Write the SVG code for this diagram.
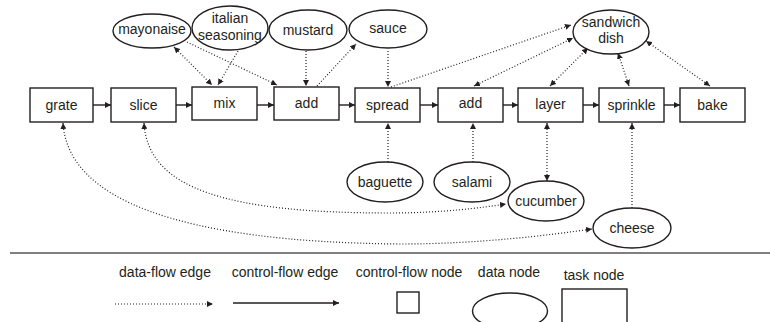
<svg xmlns="http://www.w3.org/2000/svg" width="770" height="322" viewBox="0 0 770 322">
<defs>
<marker id="ah" viewBox="0 0 6 6" refX="6" refY="3" markerWidth="6" markerHeight="6" markerUnits="userSpaceOnUse" orient="auto-start-reverse">
<path d="M0,0 L6,3 L0,6 z" fill="#231f20"/>
</marker>
<style>
.task{fill:#fff;stroke:#231f20;stroke-width:1.4}
.data{fill:#fff;stroke:#231f20;stroke-width:1.4}
text{font-family:"Liberation Sans",Arial,sans-serif;font-size:14px;fill:#231f20;text-anchor:middle}
.cf{stroke:#231f20;stroke-width:1.4;fill:none;marker-end:url(#ah)}
.df{stroke:#231f20;stroke-width:1.2;stroke-dasharray:1 2;fill:none;marker-end:url(#ah)}
.both{marker-start:url(#ah)}
</style>
</defs>
<rect width="770" height="322" fill="#fff"/>
<g id="connectors">
<line class="cf" x1="93" y1="105" x2="111" y2="105"/>
<line class="cf" x1="176" y1="105" x2="192" y2="105"/>
<line class="cf" x1="257" y1="105" x2="274" y2="105"/>
<line class="cf" x1="339" y1="105" x2="355" y2="105"/>
<line class="cf" x1="420" y1="105" x2="438" y2="105"/>
<line class="cf" x1="503" y1="105" x2="518" y2="105"/>
<line class="cf" x1="583" y1="105" x2="599" y2="105"/>
<line class="cf" x1="664" y1="105" x2="680" y2="105"/>
<line class="df both" x1="174" y1="47" x2="212" y2="85"/>
<line class="df" x1="187" y1="42" x2="277" y2="85"/>
<line class="df" x1="238" y1="51" x2="218" y2="85"/>
<line class="df" x1="306" y1="51" x2="306" y2="86"/>
<line class="df" x1="317" y1="86" x2="356" y2="44"/>
<line class="df" x1="388" y1="51" x2="388" y2="87"/>
<line class="df" x1="391" y1="87" x2="571" y2="25"/>
<line class="df both" x1="474" y1="86" x2="573" y2="38"/>
<line class="df both" x1="550" y1="86" x2="588" y2="48"/>
<line class="df both" x1="629" y1="86" x2="618" y2="53"/>
<line class="df both" x1="710" y1="86" x2="646" y2="41"/>
<line class="df" x1="388" y1="162" x2="388" y2="123"/>
<line class="df" x1="473" y1="162" x2="473" y2="123"/>
<line class="df both" x1="547" y1="123" x2="547" y2="181"/>
<line class="df" x1="632" y1="208" x2="632" y2="123"/>
<path class="df both" d="M144,123 C148,190 230,213 390,213 C440,213 480,208 506,204"/>
<path class="df both" d="M63,123 C68,200 180,242 400,244 C480,244 550,235 592,229"/>
</g>
<g id="grate"><rect class="task" x="30" y="88" width="63" height="34"/><text x="61.5" y="110">grate</text></g>
<g id="slice"><rect class="task" x="111" y="88" width="65" height="34"/><text x="143.5" y="110">slice</text></g>
<g id="mix"><rect class="task" x="192" y="87" width="65" height="33"/><text x="224.5" y="108">mix</text></g>
<g id="add1"><rect class="task" x="274" y="87" width="65" height="33"/><text x="306.5" y="108">add</text></g>
<g id="spread"><rect class="task" x="355" y="88" width="65" height="34"/><text x="387.5" y="110">spread</text></g>
<g id="add2"><rect class="task" x="438" y="88" width="65" height="34"/><text x="470.5" y="108">add</text></g>
<g id="layer"><rect class="task" x="518" y="88" width="65" height="34"/><text x="550.5" y="109">layer</text></g>
<g id="sprinkle"><rect class="task" x="599" y="88" width="65" height="34"/><text x="631.5" y="110">sprinkle</text></g>
<g id="bake"><rect class="task" x="680" y="88" width="65" height="34"/><text x="712.5" y="110">bake</text></g>
<g id="mayonaise"><ellipse class="data" cx="152" cy="31" rx="39" ry="17"/><text x="152" y="34">mayonaise</text></g>
<g id="italian-seasoning"><ellipse class="data" cx="230" cy="28" rx="38" ry="22"/><text x="230" y="23">italian</text><text x="230" y="40">seasoning</text></g>
<g id="mustard"><ellipse class="data" cx="308" cy="30" rx="39" ry="20"/><text x="308" y="35">mustard</text></g>
<g id="sauce"><ellipse class="data" cx="388" cy="29" rx="39" ry="19"/><text x="388" y="33">sauce</text></g>
<g id="sandwich-dish"><ellipse class="data" cx="611" cy="32" rx="38" ry="22"/><text x="611" y="27">sandwich</text><text x="611" y="43">dish</text></g>
<g id="baguette"><ellipse class="data" cx="385" cy="182" rx="38" ry="20"/><text x="385" y="187">baguette</text></g>
<g id="salami"><ellipse class="data" cx="472" cy="182" rx="38" ry="20"/><text x="472" y="187">salami</text></g>
<g id="cucumber"><ellipse class="data" cx="546" cy="201" rx="38" ry="20"/><text x="546" y="206">cucumber</text></g>
<g id="cheese"><ellipse class="data" cx="632" cy="228" rx="39" ry="20"/><text x="632" y="233">cheese</text></g>
<g id="legend">
<line x1="10" y1="253" x2="770" y2="253" stroke="#555" stroke-width="1.6"/>
<text x="165" y="277">data-flow edge</text>
<text x="285" y="277">control-flow edge</text>
<text x="409" y="277">control-flow node</text>
<text x="509" y="277">data node</text>
<text x="594" y="280">task node</text>
<line class="df" x1="115" y1="304" x2="213" y2="304"/>
<line class="cf" x1="233" y1="303" x2="339" y2="303"/>
<rect class="task" x="397" y="292" width="22" height="21"/>
<ellipse class="data" cx="510" cy="311" rx="37.5" ry="18"/>
<rect class="task" x="562" y="289" width="65" height="45"/>
</g>
</svg>
